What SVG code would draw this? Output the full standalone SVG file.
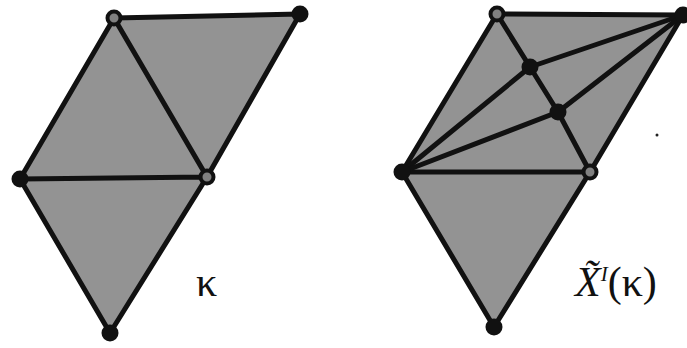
<svg xmlns="http://www.w3.org/2000/svg" width="687" height="348" viewBox="0 0 687 348">
<style>
.face{fill:#939393;stroke:none}
.edge{stroke:#111;stroke-width:5;stroke-linecap:round;stroke-linejoin:round;fill:none}
.vb{fill:#111}
.vg{fill:#808080;stroke:#111;stroke-width:4}
.lbl{font-family:"Liberation Serif","Times New Roman",serif;font-size:42px;fill:#111}
</style>
<rect width="687" height="348" fill="#fff"/>
<g id="complexK">
<polygon class="face" points="114,18 300,14 207,177 110,333 20,179"/>
<g id="edgesK">
<polyline class="edge" points="114,18 300,14 207,177 110,333 20,179 114,18 207,177 20,179"/>
</g>
<g id="vK1"><circle class="vg" cx="114" cy="18" r="6.5"/></g>
<g id="vK2"><circle class="vb" cx="300" cy="14" r="8.5"/></g>
<g id="vK3"><circle class="vb" cx="20" cy="179" r="8.5"/></g>
<g id="vK4"><circle class="vg" cx="207" cy="177" r="6.5"/></g>
<g id="vK5"><circle class="vb" cx="110" cy="333" r="8.5"/></g>
<text class="lbl" x="196" y="296">κ</text>
</g>
<g id="complexX">
<polygon class="face" points="497,14 683,15 590,172 494,327 402,172"/>
<g id="edgesX">
<polyline class="edge" points="497,14 683,15 590,172 494,327 402,172 497,14"/>
<polyline class="edge" points="402,172 590,172"/>
<polyline class="edge" points="497,14 530,67 558,112 590,172"/>
<polyline class="edge" points="683,15 530,67 402,172"/>
<polyline class="edge" points="683,15 558,112 402,172"/>
</g>
<g id="vX1"><circle class="vg" cx="497" cy="14" r="6.5"/></g>
<g id="vX2"><circle class="vb" cx="683" cy="15" r="8.5"/></g>
<g id="vX3"><circle class="vb" cx="530" cy="67" r="8.5"/></g>
<g id="vX4"><circle class="vb" cx="558" cy="112" r="8.5"/></g>
<g id="vX5"><circle class="vb" cx="402" cy="172" r="8.5"/></g>
<g id="vX6"><circle class="vg" cx="590" cy="172" r="6.5"/></g>
<g id="vX7"><circle class="vb" cx="494" cy="327" r="8.5"/></g>
<circle cx="657" cy="135" r="1.5" fill="#222"/>
<text class="lbl" x="575" y="296" font-size="37"><tspan font-style="italic">X̃</tspan><tspan font-style="italic" font-size="21" dy="-15">I</tspan><tspan dy="15">(κ)</tspan></text>
</g>
</svg>
